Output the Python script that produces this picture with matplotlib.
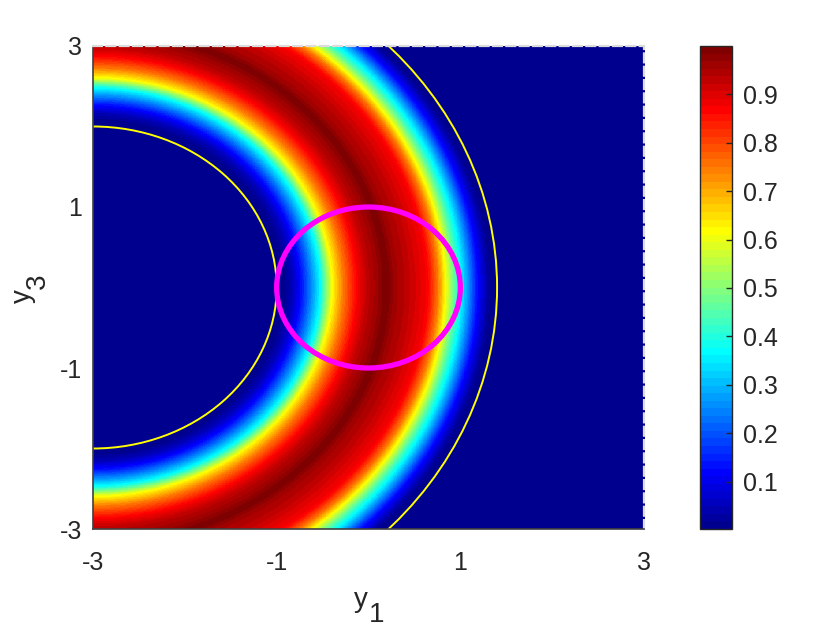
import numpy as np
import matplotlib
matplotlib.use("Agg")
import matplotlib.pyplot as plt
from matplotlib.colors import ListedColormap, Normalize
from matplotlib.patches import Circle, Ellipse

plt.rcParams['font.family'] = ['Liberation Sans', 'DejaVu Sans']

# ---- data ----
ring_center = (-3.0, 0.0)
# radial profile of the field (distance from ring centre -> value)
profile_r = [2.00, 2.07, 2.16, 2.26, 2.36, 2.47, 2.60, 2.72, 2.87, 2.98, 3.08,
             3.19, 3.28, 3.42, 3.53, 3.64, 3.75, 3.83, 3.93, 4.03, 4.18, 4.30, 4.40]
profile_v = [0.002, 0.01, 0.05, 0.13, 0.24, 0.37, 0.62, 0.75, 0.87, 0.93, 0.96,
             1.00, 0.96, 0.93, 0.90, 0.87, 0.75, 0.62, 0.46, 0.33, 0.13, 0.02, 0.002]
inner_radius = 2.0
outer_radius = 4.4
ellipse_center = (0.0, 0.0)
ellipse_radii = (1.0, 1.0)
x_ticks = [-3, -1, 1, 3]
y_ticks = [-3, -1, 1, 3]
cbar_ticks = [0.1, 0.2, 0.3, 0.4, 0.5, 0.6, 0.7, 0.8, 0.9]
clim = (0.002, 1.0)
x_label = ('y', '1')
y_label = ('y', '3')

TXT = '#262626'

# ---- MATLAB jet(64) colormap ----
def matlab_jet(m=64):
    n = int(np.ceil(m / 4))
    u = np.concatenate([np.arange(1, n + 1) / n, np.ones(n - 1), np.arange(n, 0, -1) / n])
    g = int(np.ceil(n / 2)) - (1 if m % 4 == 1 else 0) + np.arange(1, len(u) + 1)
    r = g + n
    b = g - n
    J = np.zeros((m, 3))
    J[r[r <= m] - 1, 0] = u[r <= m]
    J[g[g <= m] - 1, 1] = u[g <= m]
    J[b[b >= 1] - 1, 2] = u[b >= 1]
    return ListedColormap(J)

cmap = matlab_jet(64)
norm = Normalize(vmin=clim[0], vmax=clim[1])

# ---- field ----
xs = np.linspace(-3, 3, 700)
ys = np.linspace(-3, 3, 700)
X, Y = np.meshgrid(xs, ys)
R = np.hypot(X - ring_center[0], Y - ring_center[1])
Z = np.interp(R, profile_r, profile_v, left=profile_v[0], right=profile_v[-1])

fig = plt.figure(figsize=(8.4, 6.3), dpi=100)
ax = fig.add_axes([0.1107, 0.1603, 0.6560, 0.7667])
cax = fig.add_axes([0.8333, 0.1603, 0.0381, 0.7667])

im = ax.imshow(Z, origin='lower', extent=[-3, 3, -3, 3], aspect='auto',
               cmap=cmap, norm=norm, interpolation='nearest')

ax.add_patch(Circle(ring_center, inner_radius, fill=False, color='#ffff00', lw=1.4))
ax.add_patch(Circle(ring_center, outer_radius, fill=False, color='#ffff00', lw=1.4))
ax.add_patch(Ellipse(ellipse_center, 2 * ellipse_radii[0], 2 * ellipse_radii[1],
                     fill=False, color='#ff00ff', lw=3.8))

ax.set_xlim(-3, 3)
ax.set_ylim(-3, 3)
ax.set_xticks(x_ticks)
ax.set_yticks(y_ticks)
ax.set_xticklabels([str(t) for t in x_ticks])
ax.set_yticklabels([str(t) for t in y_ticks])
ax.tick_params(axis='both', length=0, labelsize=18, colors=TXT)
ax.tick_params(axis='x', pad=15.5)
ax.tick_params(axis='y', pad=8)
for s in ['left', 'bottom']:
    ax.spines[s].set_color('#404040')
    ax.spines[s].set_linewidth(1.2)
for s in ['top', 'right']:
    ax.spines[s].set_color('#dcdcdc')
    ax.spines[s].set_linewidth(1.6)
    ax.spines[s].set_linestyle((0, (4, 2)))

# axis labels with full-size subscripts (MATLAB TeX style)
LS = 20
ax.text(0.4737, -0.1615, x_label[0], transform=ax.transAxes, fontsize=LS, color=TXT,
        ha='left', va='baseline')
ax.text(0.5009, -0.1925, x_label[1], transform=ax.transAxes, fontsize=LS, color=TXT,
        ha='left', va='baseline')
ax.text(-0.1152, 0.468, y_label[0], transform=ax.transAxes, fontsize=LS, color=TXT,
        ha='left', va='baseline', rotation=90, rotation_mode='anchor')
ax.text(-0.088, 0.4969, y_label[1], transform=ax.transAxes, fontsize=LS, color=TXT,
        ha='left', va='baseline', rotation=90, rotation_mode='anchor')

cb = fig.colorbar(im, cax=cax, ticks=cbar_ticks)
cb.ax.set_yticklabels([f'{t:.1f}' for t in cbar_ticks])
cb.ax.tick_params(labelsize=18, colors=TXT, direction='in', length=4, width=1, pad=8)
cb.outline.set_edgecolor(TXT)
cb.outline.set_linewidth(1.0)

fig.savefig('out.png', dpi=100)
